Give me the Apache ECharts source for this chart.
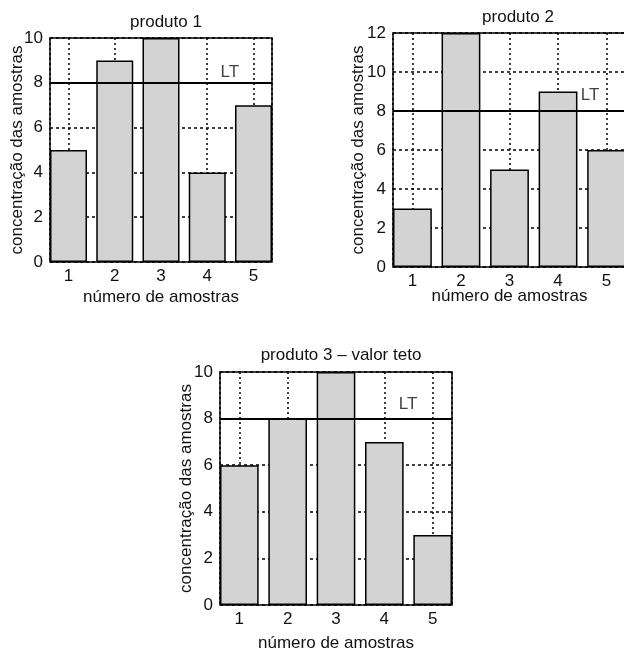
<!DOCTYPE html>
<html>
<head>
<meta charset="utf-8">
<script src="https://cdn.jsdelivr.net/npm/echarts@6/dist/echarts.min.js"></script>
<style>
html,body{margin:0;padding:0;background:#fff;}
#c{width:624px;height:650px;}
</style>
</head>
<body>
<div id="c"></div>
<script>
// ---- data ----
const categories = [1, 2, 3, 4, 5];
const produto1 = [5, 9, 10, 4, 7];
const produto2 = [3, 12, 5, 9, 6];
const produto3 = [6, 8, 10, 7, 3];
const titles = ['produto 1', 'produto 2', 'produto 3 \u2013 valor teto'];
const yMax = [10, 12, 10];
const limiteLT = 8;
const ltLabelPos = [[4.49, 8.48], [4.66, 8.82], [4.49, 8.63]];
const xAxisName = 'número de amostras';
const yAxisName = 'concentração das amostras';

// ---- layout ----
const grids = [
  {left: 50, top: 38, width: 222, height: 224, yGap: 24, xGap: 27, titleX: 161, titleY: 9},
  {left: 393, top: 33, width: 233, height: 234, yGap: 26, xGap: 21, titleX: 513, titleY: 4},
  {left: 220, top: 372, width: 232, height: 233, yGap: 25, xGap: 30, titleX: 336, titleY: 342}
];
const seriesData = [produto1, produto2, produto3];
const FONT = 'Liberation Sans, Arial, sans-serif';
const TXT = '#111';
const FS = 17;

const option = {
  animation: false,
  backgroundColor: '#fff',
  textStyle: {fontFamily: FONT},
  title: grids.map((g, i) => ({
    text: titles[i], left: g.titleX, top: g.titleY, textAlign: 'center',
    textStyle: {fontFamily: FONT, fontSize: FS, fontWeight: 'normal', color: TXT}
  })),
  grid: grids.map(g => ({
    left: g.left, top: g.top, width: g.width, height: g.height,
    show: true, borderColor: '#000', borderWidth: 1.5, backgroundColor: 'transparent',
    containLabel: false, outerBoundsMode: 'none'
  })),
  xAxis: grids.map((g, i) => ({
    type: 'value', gridIndex: i, min: 0.6, max: 5.4,
    name: xAxisName, nameLocation: 'middle', nameGap: g.xGap, nameMoveOverlap: false,
    nameTextStyle: {fontFamily: FONT, fontSize: FS, color: TXT},
    axisLine: {show: false}, axisTick: {show: false},
    axisLabel: {showMinLabel: false, showMaxLabel: false, margin: 6,
      fontFamily: FONT, fontSize: FS, color: TXT,
      formatter: v => (Number.isInteger(v) ? String(v) : '')},
    splitLine: {show: true, lineStyle: {color: '#000', width: 1.5, type: [2, 3]}}
  })),
  yAxis: grids.map((g, i) => ({
    type: 'value', gridIndex: i, min: 0, max: yMax[i], interval: 2,
    name: yAxisName, nameLocation: 'middle', nameGap: g.yGap, nameMoveOverlap: false,
    nameTextStyle: {fontFamily: FONT, fontSize: FS, color: TXT},
    axisLine: {show: false}, axisTick: {show: false},
    axisLabel: {margin: 7, fontFamily: FONT, fontSize: FS, color: TXT},
    splitLine: {show: true, lineStyle: {color: '#000', width: 1.5, type: [3, 3]}}
  })),
  series: []
};

seriesData.forEach((arr, i) => {
  option.series.push({
    type: 'bar', xAxisIndex: i, yAxisIndex: i,
    data: categories.map((c, k) => [c, arr[k]]),
    barWidth: '80%',
    itemStyle: {color: '#d3d3d3', borderColor: '#000', borderWidth: 1.5},
    markLine: {
      silent: true, symbol: 'none', label: {show: false},
      lineStyle: {color: '#000', width: 2, type: 'solid'},
      data: [{yAxis: limiteLT}]
    }
  });
  option.series.push({
    type: 'scatter', xAxisIndex: i, yAxisIndex: i, symbolSize: 0, silent: true,
    data: [ltLabelPos[i]],
    label: {show: true, position: 'inside', formatter: 'LT',
      fontFamily: FONT, fontSize: FS, color: TXT}
  });
});

const chart = echarts.init(document.getElementById('c'), null, {renderer: 'canvas'});
chart.setOption(option);
</script>
</body>
</html>
